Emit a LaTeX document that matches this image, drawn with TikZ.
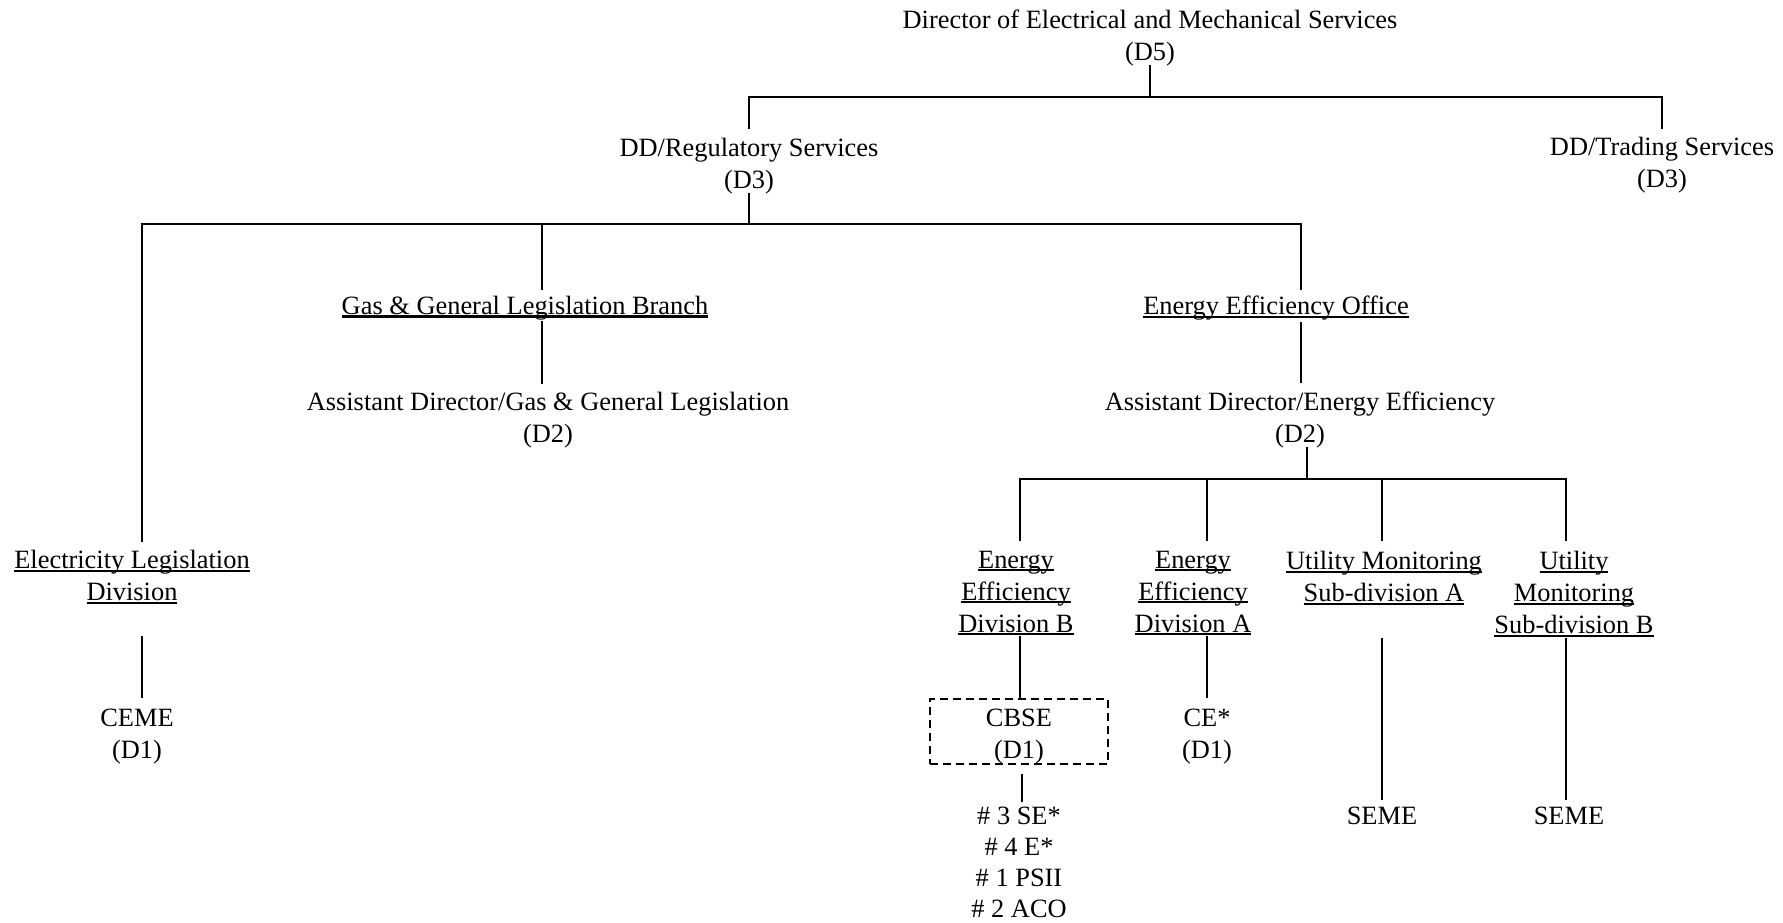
\documentclass[tikz,border=0pt]{standalone}
\usepackage{fontspec}
\setmainfont{Liberation Serif}
\newcommand\ulx[1]{{\setbox0=\hbox{#1}\rlap{\copy0}\rule[-3.2pt]{\wd0}{2.1pt}}}
\begin{document}
\begin{tikzpicture}[x=1pt,y=-1pt,line width=2.8pt,
  lbl/.style={inner sep=0pt,align=center,yshift=-3pt,font=\fontsize{26.4}{32}\selectfont},
  dbox/.style={draw,dash pattern=on 8pt off 5pt,line width=2.8pt,inner sep=0pt,minimum width=178pt,minimum height=65pt}]
\useasboundingbox (0,0) rectangle (1783,922);
% nodes
\node[lbl] (dir) at (1150,35) {Director of Electrical and Mechanical Services\\(D5)};
\node[lbl] (reg) at (749,163) {DD/Regulatory Services\\(D3)};
\node[lbl] (trd) at (1662,162) {DD/Trading Services\\(D3)};
\node[lbl] (gas) at (525,305) {\ulx{Gas \& General Legislation Branch}};
\node[lbl] (adg) at (548,417) {Assistant Director/Gas \& General Legislation\\(D2)};
\node[lbl] (eeo) at (1276,305) {\ulx{Energy Efficiency Office}};
\node[lbl] (ade) at (1300,417) {Assistant Director/Energy Efficiency\\(D2)};
\node[lbl] (eld) at (132,574) {\ulx{Electricity Legislation}\\\ulx{Division}};
\node[lbl] (ceme) at (137,734) {CEME\\(D1)};
\node[lbl] (eedb) at (1016,590) {\ulx{Energy}\\\ulx{Efficiency}\\\ulx{Division B}};
\node[lbl] (eeda) at (1193,590) {\ulx{Energy}\\\ulx{Efficiency}\\\ulx{Division A}};
\node[lbl] (uma) at (1384,575) {\ulx{Utility Monitoring}\\\ulx{Sub-division A}};
\node[lbl] (umb) at (1574,591) {\ulx{Utility}\\\ulx{Monitoring}\\\ulx{Sub-division B}};
\node[dbox] (cbsebox) at (1019,731.5) {};
\node[lbl] (cbse) at (1019,734) {CBSE\\(D1)};
\node[lbl] (cea) at (1207,734) {CE*\\(D1)};
\node[lbl,font=\fontsize{26.4}{31}\selectfont] (staff) at (1019,859) {\# 3 SE*\\\# 4 E*\\\# 1 PSII\\\# 2 ACO};
\node[lbl] (semea) at (1382,813) {SEME};
\node[lbl] (semeb) at (1569,813) {SEME};
% connector coordinates
\coordinate (d5a) at (1150,65);
\coordinate (d5b) at (1150,97);
\coordinate (regtop) at (749,129);
\coordinate (trdtop) at (1662,129);
\coordinate (rega) at (749,193);
\coordinate (regb) at (749,224);
\coordinate (eldtop) at (142,542);
\coordinate (gastop) at (542,290);
\coordinate (eeotop) at (1301,290);
\coordinate (gasa) at (542,321);
\coordinate (adgtop) at (542,384);
\coordinate (eeoa) at (1301,322);
\coordinate (adetop) at (1301,383);
\coordinate (adea) at (1307,447);
\coordinate (adeb) at (1307,479);
\coordinate (dbtop) at (1020,541);
\coordinate (datop) at (1207,541);
\coordinate (uatop) at (1382,541);
\coordinate (ubtop) at (1566,541);
\coordinate (elda) at (142,636);
\coordinate (cemetop) at (142,698);
\coordinate (dba) at (1020,636);
\coordinate (daa) at (1207,636);
\coordinate (ceatop) at (1207,698);
\coordinate (uaa) at (1382,638);
\coordinate (uab) at (1382,800);
\coordinate (uba) at (1566,638);
\coordinate (ubb) at (1566,800);
\coordinate (cba) at (1022,774);
\coordinate (cbb) at (1022,802);
% connectors
\draw (d5a) -- (d5b);
\draw (regtop) |- (d5b) -| (trdtop);
\draw (rega) -- (regb);
\draw (eldtop) |- (regb) -| (eeotop);
\draw (gastop) -- (gastop |- regb);
\draw (gasa) -- (adgtop);
\draw (eeoa) -- (adetop);
\draw (adea) -- (adeb);
\draw (dbtop) |- (adeb) -| (ubtop);
\draw (datop) -- (datop |- adeb);
\draw (uatop) -- (uatop |- adeb);
\draw (elda) -- (cemetop);
\draw (dba) -- (cbsebox.north -| dba);
\draw (daa) -- (ceatop);
\draw (uaa) -- (uab);
\draw (uba) -- (ubb);
\draw (cba) -- (cbb);
\end{tikzpicture}
\end{document}
